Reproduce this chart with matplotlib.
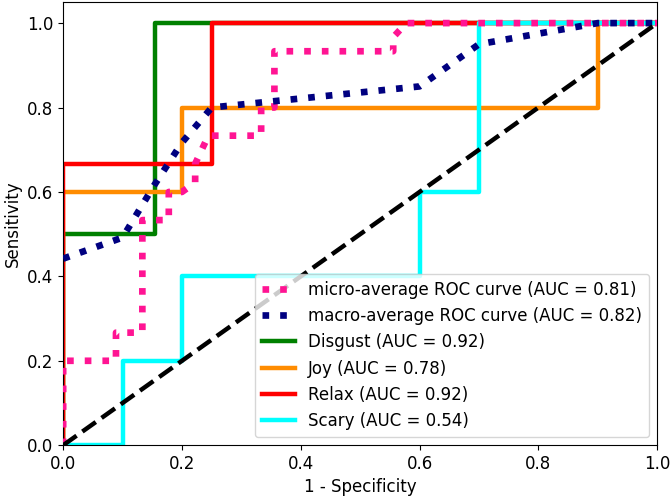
import numpy as np
import matplotlib
matplotlib.use("Agg")
import matplotlib.pyplot as plt

plt.rcParams["font.size"] = 12

# per-class ROC points (fpr, tpr)
disgust_fpr = [0.0, 0.0, 0.1538, 0.1538, 1.0]
disgust_tpr = [0.0, 0.5, 0.5, 1.0, 1.0]

joy_fpr = [0.0, 0.0, 0.2, 0.2, 0.9, 0.9, 1.0]
joy_tpr = [0.0, 0.6, 0.6, 0.8, 0.8, 1.0, 1.0]

relax_fpr = [0.0, 0.0, 0.25, 0.25, 1.0]
relax_tpr = [0.0, 0.6667, 0.6667, 1.0, 1.0]

scary_fpr = [0.0, 0.1, 0.1, 0.2, 0.2, 0.6, 0.6, 0.7, 0.7, 1.0]
scary_tpr = [0.0, 0.0, 0.2, 0.2, 0.4, 0.4, 0.6, 0.6, 1.0, 1.0]

micro_fpr = [0.0, 0.0, 0.0889, 0.0889, 0.1333, 0.1333, 0.1778, 0.1778, 0.2,
             0.2222, 0.2222, 0.2444, 0.3333, 0.3333, 0.3556, 0.3556, 0.5556,
             0.5556, 0.5778, 1.0]
micro_tpr = [0.0, 0.2, 0.2, 0.2667, 0.2667, 0.5333, 0.5333, 0.6, 0.6,
             0.6222, 0.6667, 0.7333, 0.7333, 0.8, 0.8, 0.9333, 0.9333,
             0.9667, 1.0, 1.0]

macro_fpr = [0.0, 0.1, 0.1538, 0.2, 0.25, 0.6, 0.7, 0.9, 1.0]
macro_tpr = [0.442, 0.492, 0.617, 0.717, 0.8, 0.85, 0.95, 1.0, 1.0]

class_names = ["Disgust", "Joy", "Relax", "Scary"]
class_auc = [0.92, 0.78, 0.92, 0.54]
class_colors = ["green", "darkorange", "red", "aqua"]
micro_auc = 0.81
macro_auc = 0.82

fig = plt.figure(figsize=(6.72, 4.98), dpi=100)
ax = fig.add_axes([0.094, 0.106, 0.884, 0.890])

ax.plot(micro_fpr, micro_tpr, color="deeppink", linestyle=":", linewidth=4.8,
        label=f"micro-average ROC curve (AUC = {micro_auc:.2f})", zorder=3)
ax.plot(macro_fpr, macro_tpr, color="navy", linestyle=":", linewidth=4.8,
        label=f"macro-average ROC curve (AUC = {macro_auc:.2f})", zorder=3)

curves = [(disgust_fpr, disgust_tpr), (joy_fpr, joy_tpr),
          (relax_fpr, relax_tpr), (scary_fpr, scary_tpr)]
for (fpr, tpr), name, auc, c in zip(curves, class_names, class_auc, class_colors):
    ax.plot(fpr, tpr, color=c, linewidth=3.2, label=f"{name} (AUC = {auc:.2f})", zorder=2)

ax.plot([0, 1], [0, 1], "k--", linewidth=3.2, zorder=4)

ax.set_xlim(0.0, 1.0)
ax.set_ylim(0.0, 1.05)
ax.set_xlabel("1 - Specificity")
ax.set_ylabel("Sensitivity")
leg = ax.legend(loc="lower right")
leg.set_zorder(5)

fig.savefig("out.png", dpi=100)
